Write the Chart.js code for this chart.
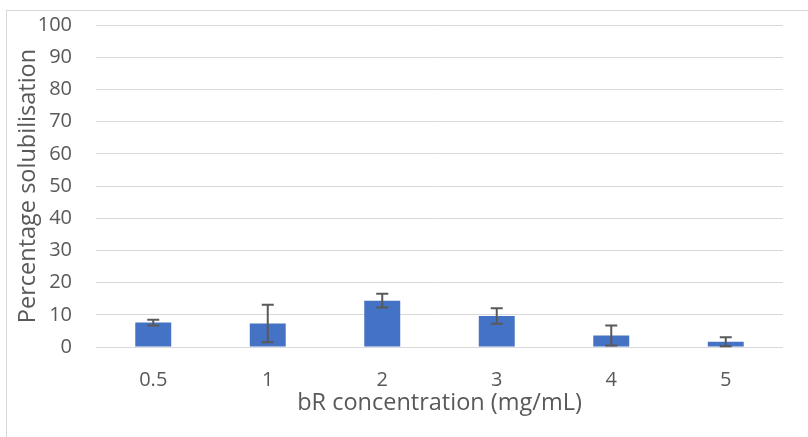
<!DOCTYPE html>
<html>
<head>
<meta charset="utf-8">
<script src="https://cdn.jsdelivr.net/npm/chart.js@4.4.1/dist/chart.umd.min.js"></script>
<style>
  html, body { margin: 0; padding: 0; background: #ffffff; }
  #wrap { position: relative; width: 808px; height: 437px; }
</style>
</head>
<body>
<div id="wrap"><canvas id="chart" width="808" height="437"></canvas></div>
<script>
// bR concentration (mg/mL)
const concentrations = ['0.5', '1', '2', '3', '4', '5'];
// mean percentage solubilisation
const solubilisation = [7.6, 7.3, 14.4, 9.6, 3.6, 1.6];
// error bar half-widths (±)
const errors = [0.9, 5.8, 2.1, 2.4, 3.1, 1.4];

const FONT = "'Open Sans', 'Noto Sans', sans-serif";
const TEXT = '#595959';
const GRID = '#d9d9d9';

// light frame around the chart area
const framePlugin = {
  id: 'frame',
  beforeDraw(chart) {
    const ctx = chart.ctx;
    ctx.save();
    ctx.strokeStyle = GRID;
    ctx.lineWidth = 1;
    ctx.strokeRect(6.5, 10.5, 900, 600);
    ctx.restore();
  }
};

// vertical error bars with caps, positioned through the chart scales
const errorBarPlugin = {
  id: 'errorBars',
  afterDatasetsDraw(chart) {
    const ctx = chart.ctx;
    const xs = chart.scales.x, ys = chart.scales.y;
    ctx.save();
    ctx.strokeStyle = TEXT;
    ctx.lineWidth = 2;
    solubilisation.forEach((v, i) => {
      const x = xs.getPixelForValue(i);
      const yTop = ys.getPixelForValue(v + errors[i]);
      const yBot = ys.getPixelForValue(Math.max(0, v - errors[i]));
      const cap = 6;
      ctx.beginPath();
      ctx.moveTo(x, yTop); ctx.lineTo(x, yBot);
      ctx.moveTo(x - cap, yTop); ctx.lineTo(x + cap, yTop);
      ctx.moveTo(x - cap, yBot); ctx.lineTo(x + cap, yBot);
      ctx.stroke();
    });
    ctx.restore();
  }
};

new Chart(document.getElementById('chart'), {
  type: 'bar',
  data: {
    labels: concentrations,
    datasets: [{
      data: solubilisation,
      backgroundColor: '#4472C4',
      borderWidth: 0,
      barPercentage: 0.314,
      categoryPercentage: 1.0
    }]
  },
  options: {
    responsive: false,
    animation: false,
    layout: { padding: { left: 0, right: 25, top: 25, bottom: 0 } },
    plugins: {
      legend: { display: false },
      tooltip: { enabled: false }
    },
    scales: {
      x: {
        grid: { display: false, drawTicks: false },
        border: { display: false },
        ticks: { color: TEXT, font: { family: FONT, size: 20 }, padding: 21 },
        title: {
          display: true,
          text: 'bR concentration (mg/mL)',
          color: TEXT,
          font: { family: FONT, size: 23.5 },
          padding: { top: 0, bottom: 19.5 }
        },
        afterFit(scale) {
          scale.height = 90;
          scale.paddingLeft = 0;
          scale.paddingRight = 0;
        }
      },
      y: {
        min: 0,
        max: 100,
        ticks: { stepSize: 10, color: TEXT, font: { family: FONT, size: 20 }, padding: 24 },
        grid: { color: GRID, lineWidth: 1, drawTicks: false },
        border: { display: false },
        title: {
          display: true,
          text: 'Percentage solubilisation',
          color: TEXT,
          font: { family: FONT, size: 23.5 },
          padding: { top: 14.4, bottom: 0 }
        },
        afterFit(scale) {
          scale.width = 96;
          scale.paddingTop = 0;
          scale.paddingBottom = 0;
        }
      }
    }
  },
  plugins: [framePlugin, errorBarPlugin]
});
</script>
</body>
</html>
